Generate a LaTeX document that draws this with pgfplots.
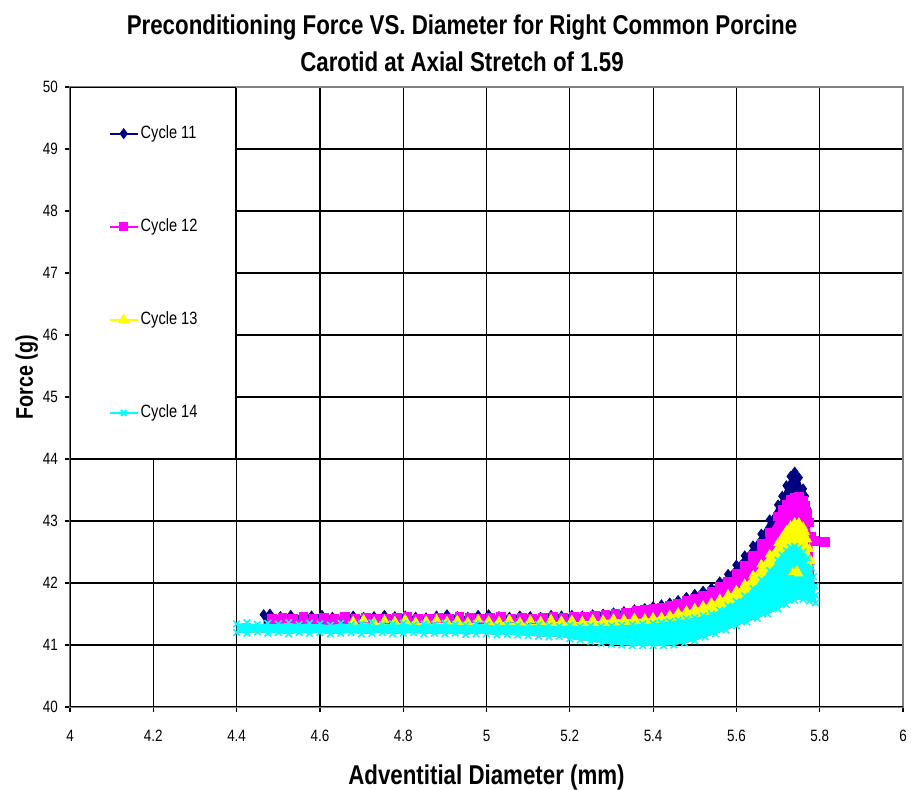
\documentclass[border=0pt]{standalone}
\usepackage{fontspec}
\setmainfont{Liberation Sans}[FakeStretch=0.82]
\usepackage{pgfplots}
\pgfplotsset{compat=1.18}
\usepackage{pgfplotstable}
\usepgfplotslibrary{fillbetween}

\definecolor{cnavy}{RGB}{0,0,128}
\definecolor{cmag}{RGB}{255,0,255}
\definecolor{cyel}{RGB}{255,255,0}
\definecolor{ccya}{RGB}{0,255,255}
\definecolor{frgray}{RGB}{128,128,128}

% Cycle 11 upper edge (first row is a hidden anchor point)
\pgfplotstableread{
x y
4.465 41.25
4.465 41.49
4.48 41.50
4.505 41.46
4.53 41.48
4.555 41.45
4.58 41.47
4.605 41.48
4.63 41.45
4.655 41.44
4.68 41.47
4.705 41.45
4.73 41.46
4.755 41.48
4.78 41.46
4.805 41.47
4.83 41.45
4.855 41.44
4.88 41.47
4.905 41.49
4.93 41.46
4.955 41.45
4.98 41.48
5.005 41.49
5.03 41.46
5.055 41.45
5.08 41.47
5.105 41.46
5.13 41.45
5.155 41.48
5.18 41.47
5.205 41.48
5.23 41.47
5.255 41.49
5.28 41.50
5.305 41.52
5.33 41.54
5.355 41.57
5.38 41.59
5.40 41.62
5.42 41.65
5.44 41.68
5.46 41.72
5.48 41.77
5.50 41.82
5.52 41.87
5.54 41.92
5.56 42.02
5.58 42.14
5.60 42.29
5.62 42.44
5.64 42.60
5.66 42.79
5.68 43.02
5.70 43.26
5.71 43.40
5.72 43.57
5.73 43.72
5.74 43.79
5.75 43.70
5.76 43.52
5.765 43.40
5.77 43.20
5.775 42.97
5.778 42.70
}\navyU

% Cycle 12 upper edge
\pgfplotstableread{
x y
4.485 41.25
4.485 41.42
4.51 41.44
4.535 41.43
4.56 41.45
4.585 41.42
4.61 41.44
4.635 41.43
4.66 41.45
4.685 41.42
4.71 41.44
4.735 41.43
4.76 41.42
4.785 41.44
4.81 41.45
4.835 41.43
4.86 41.42
4.885 41.44
4.91 41.43
4.935 41.45
4.96 41.44
4.985 41.42
5.01 41.44
5.035 41.45
5.06 41.43
5.085 41.44
5.11 41.42
5.135 41.44
5.16 41.45
5.185 41.44
5.21 41.45
5.235 41.46
5.26 41.47
5.285 41.49
5.31 41.51
5.335 41.53
5.36 41.55
5.38 41.57
5.40 41.58
5.42 41.61
5.44 41.64
5.46 41.67
5.48 41.71
5.50 41.75
5.52 41.80
5.54 41.86
5.56 41.94
5.58 42.03
5.60 42.15
5.62 42.28
5.64 42.44
5.66 42.63
5.68 42.82
5.70 43.07
5.71 43.18
5.72 43.27
5.73 43.34
5.74 43.38
5.75 43.40
5.76 43.33
5.765 43.25
5.77 43.12
5.775 42.98
5.78 42.75
5.782 42.67
}\magU

% Cycle 13 upper edge
\pgfplotstableread{
x y
4.68 41.25
4.68 41.38
4.705 41.41
4.73 41.37
4.755 41.40
4.78 41.38
4.805 41.41
4.83 41.37
4.855 41.39
4.88 41.41
4.905 41.38
4.93 41.40
4.955 41.37
4.98 41.41
5.005 41.39
5.03 41.38
5.055 41.41
5.08 41.37
5.105 41.40
5.13 41.38
5.155 41.41
5.18 41.39
5.205 41.40
5.23 41.38
5.255 41.41
5.28 41.40
5.305 41.42
5.33 41.41
5.355 41.43
5.38 41.42
5.40 41.44
5.42 41.45
5.44 41.48
5.46 41.52
5.48 41.55
5.50 41.59
5.52 41.63
5.54 41.68
5.56 41.74
5.58 41.81
5.60 41.88
5.62 41.98
5.64 42.12
5.66 42.30
5.68 42.46
5.70 42.64
5.71 42.74
5.72 42.84
5.73 42.92
5.74 42.97
5.75 42.97
5.76 42.90
5.765 42.82
5.77 42.70
5.775 42.55
5.78 42.35
}\yelU

% Cycle 14 upper edge
\pgfplotstableread{
x y
4.40 41.20
4.40 41.34
4.425 41.36
4.45 41.33
4.475 41.35
4.50 41.34
4.525 41.36
4.55 41.33
4.575 41.35
4.60 41.34
4.625 41.32
4.65 41.35
4.675 41.33
4.70 41.34
4.725 41.36
4.75 41.33
4.775 41.34
4.80 41.35
4.825 41.32
4.85 41.34
4.875 41.33
4.90 41.35
4.925 41.33
4.95 41.32
4.975 41.34
5.00 41.33
5.025 41.31
5.05 41.33
5.075 41.32
5.10 41.31
5.125 41.33
5.15 41.31
5.175 41.30
5.20 41.32
5.225 41.30
5.25 41.31
5.275 41.30
5.30 41.31
5.325 41.32
5.35 41.33
5.375 41.34
5.40 41.35
5.42 41.36
5.44 41.38
5.46 41.40
5.48 41.42
5.50 41.44
5.52 41.47
5.54 41.50
5.56 41.56
5.58 41.63
5.60 41.70
5.62 41.79
5.64 41.91
5.66 42.05
5.68 42.20
5.70 42.37
5.71 42.45
5.72 42.52
5.73 42.57
5.74 42.59
5.75 42.56
5.76 42.50
5.77 42.40
5.78 42.25
5.785 42.10
5.789 41.95
5.79 41.80
}\cyaU

% Cycle 14 lower edge (shared lower boundary)
\pgfplotstableread{
x y
4.40 41.20
4.425 41.19
4.45 41.21
4.475 41.19
4.50 41.20
4.525 41.18
4.55 41.20
4.575 41.19
4.60 41.20
4.625 41.18
4.65 41.19
4.675 41.20
4.70 41.18
4.725 41.19
4.75 41.20
4.775 41.18
4.80 41.19
4.825 41.20
4.85 41.18
4.875 41.19
4.90 41.18
4.925 41.19
4.95 41.17
4.975 41.18
5.00 41.18
5.025 41.16
5.05 41.17
5.075 41.16
5.10 41.15
5.125 41.14
5.15 41.13
5.175 41.14
5.20 41.10
5.225 41.08
5.25 41.06
5.275 41.03
5.30 41.01
5.325 41.00
5.35 40.99
5.375 40.99
5.40 40.99
5.425 40.99
5.45 41.00
5.475 41.03
5.50 41.07
5.525 41.13
5.55 41.18
5.575 41.24
5.60 41.31
5.625 41.37
5.65 41.43
5.675 41.50
5.70 41.58
5.72 41.65
5.74 41.72
5.76 41.74
5.775 41.71
5.79 41.68
}\cyaL

\begin{document}
\begin{tikzpicture}
\begin{axis}[
  scale only axis,
  width=416.5pt, height=310pt,
  xmin=4, xmax=6, ymin=40, ymax=50,
  xtick={4,4.2,4.4,4.6,4.8,5,5.2,5.4,5.6,5.8,6},
  ytick={40,41,42,43,44,45,46,47,48,49,50},
  grid=major,
  major grid style={black, line width=0.6pt},
  axis line style={frgray, line width=0.9pt},
  tick align=outside,
  major tick length=2.5pt,
  tick style={black, line width=0.6pt},
  xtick pos=bottom, ytick pos=left,
  /pgf/number format/assume math mode=true,
  tick label style={font=\fontsize{8.2}{9}\selectfont},
  xticklabel style={yshift=-5.5pt},
  legend style={at={(0,1)}, anchor=north west, draw=black, line width=0.7pt,
    fill=white, inner xsep=19pt, inner ysep=19pt, row sep=38.6pt,
    column sep=1pt, nodes={inner sep=0pt},
    font=\fontsize{8.9}{10}\selectfont},
  legend cell align=left,
  legend image code/.code={\draw[mark repeat=2,mark phase=2,line width=1pt]
     plot coordinates {(0pt,0pt) (7pt,0pt) (14pt,0pt)};},
]
% shared lower boundary
\addplot[draw=none, name path=low, forget plot] table {\cyaL};
% Cycle 11
\addplot[draw=none, name path=u11, forget plot] table {\navyU};
\addplot[fill=cnavy, draw=none, forget plot] fill between[of=u11 and low];
\addplot[only marks, mark=diamond*, mark size=2.4pt, cnavy, mark phase=2, forget plot] table {\navyU};
% Cycle 12
\addplot[draw=none, name path=u12, forget plot] table {\magU};
\addplot[fill=cmag, draw=none, forget plot] fill between[of=u12 and low];
\addplot[only marks, mark=square*, mark size=2.1pt, cmag, mark phase=2, forget plot] table {\magU};
\addplot[cmag, line width=1pt, mark=square*, mark size=2.1pt, forget plot] coordinates {(5.785,42.68) (5.813,42.66)};
% Cycle 13
\addplot[draw=none, name path=u13, forget plot] table {\yelU};
\addplot[fill=cyel, draw=none, forget plot] fill between[of=u13 and low];
\addplot[only marks, mark=triangle*, mark size=2.5pt, cyel, mark phase=2, forget plot] table {\yelU};
% Cycle 14
\addplot[draw=none, name path=u14, forget plot] table {\cyaU};
\addplot[fill=ccya, draw=none, forget plot] fill between[of=u14 and low];
\addplot[only marks, mark=x, mark size=2.3pt, line width=0.8pt, ccya, mark phase=2, forget plot] table {\cyaU};
\addplot[only marks, mark=x, mark size=2.3pt, line width=0.8pt, ccya, forget plot] table {\cyaL};
% Cycle 13 points visible inside the Cycle 14 loop
\addplot[only marks, mark=triangle*, mark size=2.2pt, cyel, forget plot] coordinates {(5.735,42.17) (5.745,42.21) (5.75,42.15)};

\addlegendimage{cnavy, mark=diamond*, mark size=2pt}
\addlegendentry{Cycle 11}
\addlegendimage{cmag, mark=square*, mark size=1.8pt}
\addlegendentry{Cycle 12}
\addlegendimage{cyel, mark=triangle*, mark size=2.3pt}
\addlegendentry{Cycle 13}
\addlegendimage{ccya, mark=x, mark size=2pt}
\addlegendentry{Cycle 14}

\draw[black, line width=0.9pt] (rel axis cs:0,1) -- (rel axis cs:0,0) -- (rel axis cs:1,0);
\end{axis}
\node[anchor=base, align=center, font=\bfseries\fontsize{13.6}{18.7}\selectfont]
  at (196pt, 317.65pt) {Preconditioning Force VS. Diameter for Right Common Porcine\\Carotid at Axial Stretch of 1.59};
\node[anchor=base, font=\bfseries\fontsize{13.6}{16}\selectfont] at (208.25pt,-39pt) {Adventitial Diameter (mm)};
\node[anchor=base, rotate=90, font=\bfseries\fontsize{12}{14}\selectfont] at (-18.5pt,165pt) {Force (g)};
\pgfresetboundingbox
\useasboundingbox (-35pt,-41.5pt) rectangle (420.5pt,353.5pt);
\end{tikzpicture}
\end{document}
